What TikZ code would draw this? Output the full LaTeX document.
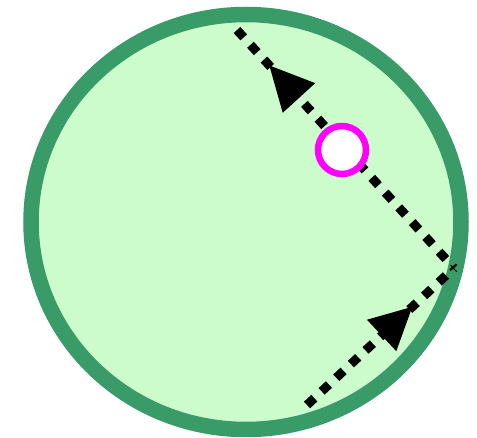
\documentclass[tikz,border=0pt]{standalone}
\usetikzlibrary{calc}
\definecolor{ringgreen}{RGB}{56,155,104}
\definecolor{fillgreen}{RGB}{204,252,204}
\definecolor{markmagenta}{RGB}{255,0,255}
\begin{document}
\begin{tikzpicture}[x=1pt,y=-1pt,
  dotline/.style={line width=9pt, dash pattern=on 10pt off 10pt, black},
  headfill/.style={fill=black}]
\useasboundingbox (0,0) rectangle (477,438);
\coordinate (ringc) at (246,222);
\draw[draw=ringgreen, fill=fillgreen, line width=15.5pt] (ringc) ellipse [x radius=215pt, y radius=207.5pt];
\coordinate (A) at (237,30);
\coordinate (B) at (454,268);
\coordinate (C) at (307,405);
\draw[dotline] (A) -- (B);
\draw[dotline] (C) -- (B);
% arrowhead 1
\coordinate (t1) at ($(A)!48pt!(B)$);
\coordinate (b1) at ($(A)!92pt!(B)$);
\fill[headfill] (t1) -- ($(b1)!22pt!90:(A)$) -- ($(b1)!22pt!-90:(A)$) -- cycle;
% arrowhead 2
\coordinate (t2) at ($(C)!144pt!(B)$);
\coordinate (b2) at ($(C)!102pt!(B)$);
\fill[headfill] (t2) -- ($(b2)!21.5pt!90:(C)$) -- ($(b2)!21.5pt!-90:(C)$) -- cycle;
\node[circle, draw=markmagenta, fill=white, line width=6.5pt, minimum size=48pt, inner sep=0pt] (mark) at (342,150) {};
\end{tikzpicture}
\end{document}
